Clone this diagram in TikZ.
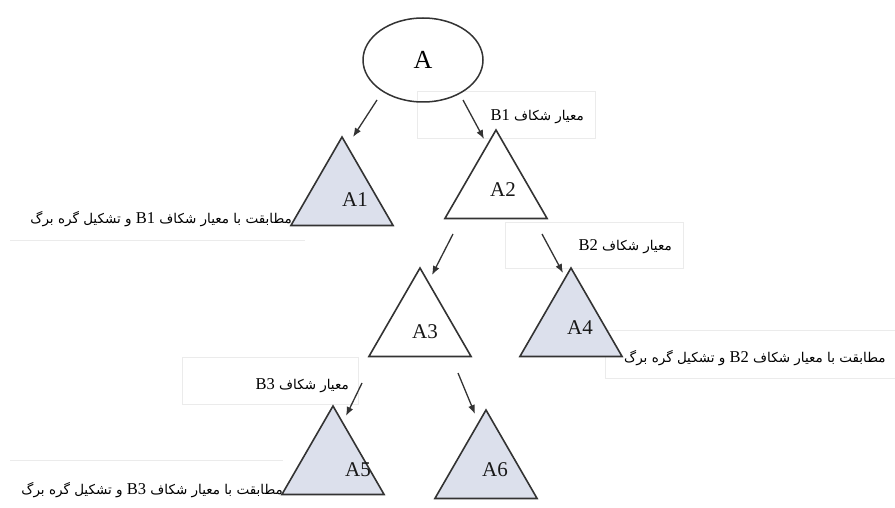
\documentclass[tikz,border=0pt]{standalone}
\usepackage{fontspec}
\setmainfont{Liberation Serif}
\newfontfamily\arabicfont[Script=Arabic]{DejaVu Sans}
\TeXXeTstate=1
\usetikzlibrary{shapes.geometric,arrows.meta}
\definecolor{leaf}{HTML}{DCE0EC}
\definecolor{edge}{HTML}{333333}
\definecolor{faint}{HTML}{EBEBEB}
\tikzset{
  tri/.style={regular polygon, regular polygon sides=3, minimum size=118pt,
    inner sep=0pt, outer sep=0pt, draw=edge, line width=1.6pt},
  leaftri/.style={tri, fill=leaf},
  inner/.style={tri, fill=white},
  tlabel/.style={font=\fontsize{21}{23}\selectfont, text=black!90},
  arr/.style={-{Latex[length=9pt,width=7pt]}, draw=edge, line width=1.3pt},
  fbox/.style={draw=faint, line width=1pt},
  ptext/.style={font=\arabicfont\fontsize{13.5}{15}\selectfont, text=black, inner sep=0pt},
}
\newcommand{\lat}[1]{\beginL{\rmfamily\fontsize{16.5}{17}\selectfont #1}\endL}
\begin{document}
\begin{tikzpicture}[x=1pt,y=-1pt]
\useasboundingbox (0,0) rectangle (895,508);
% faint label boxes
\draw[fbox] (417,92) rectangle (595,139);
\draw[fbox] (505,223) rectangle (683,268);
\draw[fbox] (182,357) rectangle (358,404);
\draw[fbox] (605,330) rectangle (895,378);
\draw[fbox] (10,240) -- (305,240);
\draw[fbox] (10,460) -- (283,460);
% root
\node[ellipse, draw=edge, line width=1.5pt, minimum width=120pt, minimum height=84pt,
      font=\fontsize{26}{28}\selectfont] (A) at (423,60) {A};
% triangles
\node[leaftri] (T1) at (342,196) {};
\node[inner]   (T2) at (496,189) {};
\node[inner]   (T3) at (420,327) {};
\node[leaftri] (T4) at (571,327) {};
\node[leaftri] (T5) at (333,465) {};
\node[leaftri] (T6) at (486,469) {};
\node[tlabel] (L1) at (355,200) {A1};
\node[tlabel] (L2) at (503,190) {A2};
\node[tlabel] (L3) at (425,332) {A3};
\node[tlabel] (L4) at (580,328) {A4};
\node[tlabel] (L5) at (358,470) {A5};
\node[tlabel] (L6) at (495,470) {A6};
% connector end points
\coordinate (a1s) at (377,100); \coordinate (a1e) at (353,137);
\coordinate (a2s) at (463,100); \coordinate (a2e) at (484,139);
\coordinate (a3s) at (453,234); \coordinate (a3e) at (432,275);
\coordinate (a4s) at (542,234); \coordinate (a4e) at (563,273);
\coordinate (a5s) at (362,383); \coordinate (a5e) at (346,416);
\coordinate (a6s) at (458,373); \coordinate (a6e) at (475,414);
\draw[arr] (a1s) -- (a1e);
\draw[arr] (a2s) -- (a2e);
\draw[arr] (a3s) -- (a3e);
\draw[arr] (a4s) -- (a4e);
\draw[arr] (a5s) -- (a5e);
\draw[arr] (a6s) -- (a6e);
% texts
\node[ptext, anchor=east] (B1) at (584,117) {\beginR معیار شکاف \lat{B1}\endR};
\node[ptext, anchor=east] (B2) at (672,247) {\beginR معیار شکاف \lat{B2}\endR};
\node[ptext, anchor=east] (B3) at (349,386) {\beginR معیار شکاف \lat{B3}\endR};
\node[ptext, anchor=east] (M1) at (292,219) {\beginR مطابقت با معیار شکاف \lat{B1} و تشکیل گره برگ\endR};
\node[ptext, anchor=west] (M2) at (624,358) {\beginR مطابقت با معیار شکاف \lat{B2} و تشکیل گره برگ\endR};
\node[ptext, anchor=east] (M3) at (283,490) {\beginR مطابقت با معیار شکاف \lat{B3} و تشکیل گره برگ\endR};
\end{tikzpicture}
\end{document}
